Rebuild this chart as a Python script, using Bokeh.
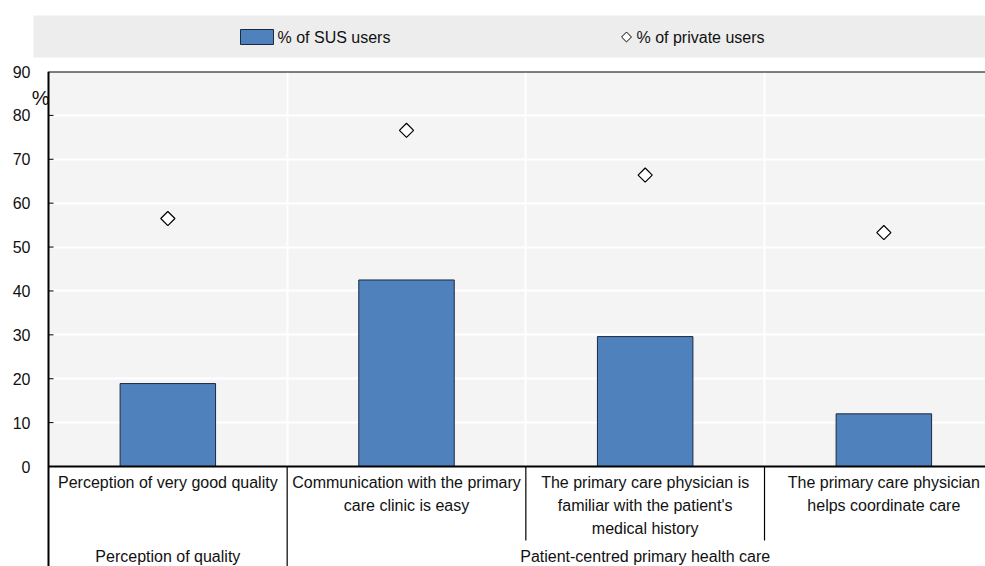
from bokeh.plotting import figure
from bokeh.layouts import column
from bokeh.models import Range1d, FixedTicker, ColumnDataSource
from bokeh.core.properties import value
from bokeh.embed import file_html
from bokeh.resources import INLINE
import numpy as np

# ---- data ----
categories = [
    "Perception of very good quality",
    "Communication with the primary\ncare clinic is easy",
    "The primary care physician is\nfamiliar with the patient's\nmedical history",
    "The primary care physician\nhelps coordinate care",
]
groups = ["Perception of quality", "Patient-centred primary health care"]
group_sizes = [1, 3]
sus_users = [18.9, 42.5, 29.6, 12.0]
private_users = [56.5, 76.6, 66.4, 53.3]
y_ticks = [0, 10, 20, 30, 40, 50, 60, 70, 80, 90]
series_names = ["% of SUS users", "% of private users"]
unit = "%"

FONT = "Liberation Sans, Arial, sans-serif"
BAR_COLOR = "#4f81bd"
BAR_LINE = "#1b2a41"
PLOT_BG = "#f4f4f4"
LEGEND_BG = "#ededed"
TEXT = "#111111"

n = len(categories)
centers = np.arange(n) + 0.5

# ---- main chart geometry ----
px_per_unit = 395 / 90.0          # vertical pixels per percentage point
cat_px = 238.67                   # horizontal pixels per category
gutter = 17 / cat_px              # room left of the value axis for the unit label
y_bottom = -100 / px_per_unit
x_end = 937 / cat_px

# ---- legend strip (frame aligned with the chart frame below) ----
leg = figure(width=985, height=60, x_range=Range1d(31, 985), y_range=Range1d(60, 0),
             output_backend="svg", toolbar_location=None,
             min_border_left=0, min_border_right=0, min_border_top=0, min_border_bottom=0)
leg.axis.visible = False
leg.grid.visible = False
leg.outline_line_color = None
leg.background_fill_color = "white"
leg.border_fill_color = "white"
leg.quad(left=[33], right=[985], top=[15], bottom=[57], fill_color=LEGEND_BG, line_color=None)
leg.quad(left=[240], right=[273], top=[29], bottom=[44], fill_color=BAR_COLOR,
         line_color=BAR_LINE, line_width=1)
leg.scatter(x=[626], y=[36.5], marker="square", angle=np.pi / 4, size=7,
            fill_color="white", line_color="black", line_width=1)
leg.text(x=[277, 636], y=[36.5, 36.5], text=series_names, text_font=value(FONT),
         text_font_size="16px", text_baseline="middle", text_align="left", text_color=TEXT)

# ---- main chart ----
p = figure(width=985, height=506, x_range=Range1d(-gutter, x_end), y_range=Range1d(y_bottom, 90),
           output_backend="svg", toolbar_location=None,
           min_border_left=31, min_border_right=0, min_border_top=11, min_border_bottom=0)
p.xaxis.visible = False
p.background_fill_color = "white"
p.border_fill_color = "white"
p.outline_line_color = None

# plotting area background (0-90 only)
bg = p.quad(left=[0], right=[x_end + 1], bottom=[0], top=[90], fill_color=PLOT_BG, line_color=None)
bg.level = "image"

# value axis labels
p.yaxis.ticker = FixedTicker(ticks=y_ticks)
p.yaxis.major_label_text_font = FONT
p.yaxis.major_label_text_font_size = "16px"
p.yaxis.major_label_text_color = TEXT
p.yaxis.major_tick_in = 0
p.yaxis.major_tick_out = 0
p.yaxis.minor_tick_line_color = None
p.yaxis.axis_line_color = None
p.yaxis.major_label_standoff = 1

p.ygrid.ticker = FixedTicker(ticks=y_ticks[1:-1])
p.ygrid.grid_line_color = "white"
p.ygrid.grid_line_width = 2
p.xgrid.ticker = FixedTicker(ticks=list(range(1, n)))
p.xgrid.grid_line_color = "white"
p.xgrid.grid_line_width = 2

# bars and markers
src = ColumnDataSource(dict(x=centers, sus=sus_users, priv=private_users))
p.vbar(x="x", top="sus", width=0.4, bottom=0, source=src,
       fill_color=BAR_COLOR, line_color=BAR_LINE, line_width=1)
p.scatter(x="x", y="priv", source=src, marker="square", angle=np.pi / 4, size=10,
          fill_color="white", line_color="black", line_width=1.2)

# frame lines: top border, zero line, vertical value axis with inward ticks
p.segment(x0=[0, 0], x1=[x_end + 1, x_end + 1], y0=[y_ticks[-1], y_ticks[0]],
          y1=[y_ticks[-1], y_ticks[0]], line_color="black", line_width=2)
p.segment(x0=[0], x1=[0], y0=[y_ticks[-1]], y1=[y_bottom], line_color="black", line_width=2)
p.segment(x0=0, x1=5 / cat_px, y0=y_ticks[1:-1], y1=y_ticks[1:-1],
          line_color="black", line_width=1)

# separators between categories and groups below the axis
group_edges = list(np.cumsum(group_sizes)[:-1])
cat_edges = [e for e in range(1, n) if e not in group_edges]
p.segment(x0=group_edges, x1=group_edges, y0=0, y1=y_bottom,
          line_color="black", line_width=1.2)
p.segment(x0=cat_edges, x1=cat_edges, y0=0, y1=-74 / px_per_unit,
          line_color="black", line_width=1.2)

# category labels
p.text(x=centers, y=-7 / px_per_unit, text=categories, text_font=value(FONT),
       text_font_size="16px", text_align="center", text_baseline="top",
       text_line_height=1.38, text_color=TEXT)

# group labels
starts = np.concatenate([[0], np.cumsum(group_sizes)[:-1]])
g_centers = starts + np.array(group_sizes) / 2
p.text(x=g_centers, y=-90 / px_per_unit, text=groups, text_font=value(FONT),
       text_font_size="16px", text_align="center", text_baseline="middle",
       text_color=TEXT)

# unit label next to the value axis
p.text(x=[0], y=[84], text=[unit], text_align="right", text_baseline="middle",
       x_offset=1, text_font=value(FONT), text_font_size="20px", text_color=TEXT)

layout = column(leg, p, spacing=0)
open("out.html", "w").write(file_html(layout, INLINE))
